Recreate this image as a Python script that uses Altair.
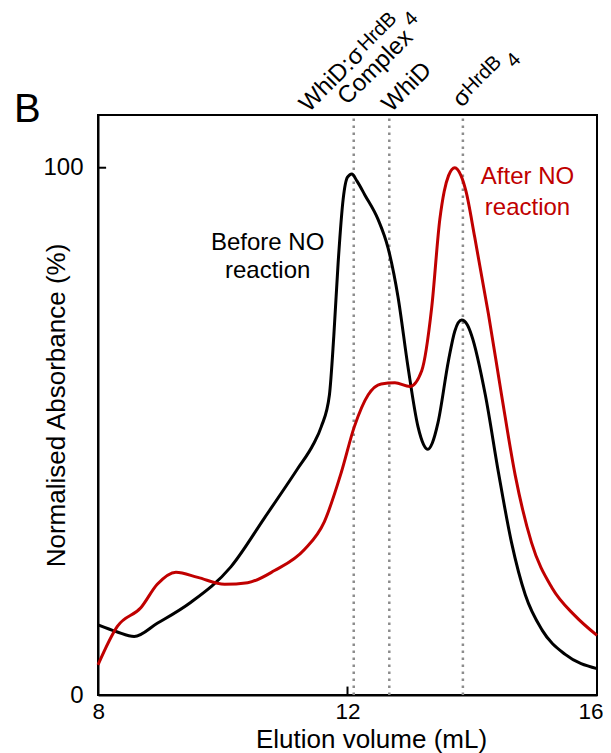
import altair as alt
import pandas as pd

# ---- data ----
before_x = [8.0, 8.3, 8.58, 8.95, 9.49, 10.13, 10.67, 11.2, 11.45, 11.58, 11.71, 11.78, 11.85, 11.93, 12.0, 12.07,
            12.15, 12.28, 12.49, 12.65, 12.81, 12.97, 13.13, 13.22, 13.29, 13.36, 13.45, 13.62, 13.72, 13.83,
            13.92, 13.99, 14.21, 14.42, 14.63, 14.85, 15.12, 15.49, 16.0]
before_y = [13.3, 12.0, 11.1, 13.6, 17.6, 24.3, 33.6, 42.9, 47.5, 50.9, 56.9, 68.0, 82.0, 94.0, 98.2, 98.8,
            97.5, 94.8, 90.2, 84.8, 75.5, 62.2, 50.9, 47.5, 46.6, 47.8, 51.6, 63.5, 69.0, 71.1,
            70.2, 68.2, 56.9, 42.2, 28.9, 19.0, 12.3, 7.7, 5.0]

after_x = [8.0, 8.31, 8.69, 8.95, 9.25, 9.6, 10.03, 10.4, 10.83, 11.31, 11.63, 11.9, 12.11, 12.33, 12.54,
           12.76, 13.0, 13.19, 13.35, 13.48, 13.55, 13.62, 13.72, 13.82, 13.9, 14.04, 14.26, 14.47, 14.69,
           14.95, 15.28, 15.65, 16.0]
after_y = [5.7, 13.0, 16.6, 21.0, 23.3, 22.3, 21.0, 21.3, 23.6, 27.6, 32.9, 42.2, 50.9, 56.9, 59.0,
           59.2, 58.5, 61.5, 73.5, 90.2, 95.5, 98.5, 100.0, 98.5, 95.5, 86.8, 72.2, 56.9, 41.6,
           28.9, 20.3, 15.0, 11.3]

series_names = ["Before NO reaction", "After NO reaction"]
marker_x = [12.1, 12.67, 13.85]
x_ticks = [8, 12, 16]
y_ticks = [0, 100]

RED = "#c00000"
FONT = "Liberation Sans"

df = pd.concat([
    pd.DataFrame({"x": before_x, "y": before_y, "s": series_names[0]}),
    pd.DataFrame({"x": after_x, "y": after_y, "s": series_names[1]}),
])

xs = alt.Scale(domain=[8, 16], nice=False, zero=False)
ys = alt.Scale(domain=[0, 110], nice=False, zero=False)

lines = alt.Chart(df).mark_line(strokeWidth=3, interpolate="monotone").encode(
    x=alt.X("x:Q", scale=xs,
            axis=alt.Axis(values=x_ticks, format="d", ticks=False, grid=False, labelFontSize=22.5,
                          labelFlush=True, labelFlushOffset=6, labelOverlap=False,
                          labelPadding=5, title="Elution volume (mL)", titleFontSize=26,
                          titleFontWeight="normal", titlePadding=4, titleX=273)),
    y=alt.Y("y:Q", scale=ys,
            axis=alt.Axis(values=y_ticks, format="d", ticks=False, grid=False, labelFontSize=24,
                          labelFlush=False, labelOverlap=False,
                          labelPadding=15, title="Normalised Absorbance (%)", titleFontSize=26,
                          titleFontWeight="normal", titleX=-34, titleY=290,
                          titleBaseline="alphabetic")),
    color=alt.Color("s:N", scale=alt.Scale(domain=series_names, range=["black", RED]), legend=None),
    order=alt.Order("s:N"),
)

vlines = alt.Chart(pd.DataFrame({"x": marker_x, "y0": [0] * 3, "y1": [110] * 3})).mark_rule(
    color="#8c8c8c", strokeWidth=2.5, strokeDash=[2.5, 4.5]
).encode(x="x:Q", y="y0:Q", y2="y1:Q")

# inward tick marks
xt = alt.Chart(pd.DataFrame({"x": [12], "y0": [0], "y1": [1.6]})).mark_rule(
    color="black", strokeWidth=2).encode(x="x:Q", y="y0:Q", y2="y1:Q")
yt = alt.Chart(pd.DataFrame({"x0": [8], "x1": [8.13], "y": [100]})).mark_rule(
    color="black", strokeWidth=2).encode(x="x0:Q", x2="x1:Q", y="y:Q")


def txt(label, x, y, size, color="black", align="center", angle=0, dx=0, dy=0):
    return alt.Chart(pd.DataFrame({"x": [x], "y": [y], "t": [label]})).mark_text(
        font=FONT, fontSize=size, color=color, align=align, baseline="alphabetic",
        angle=angle, dx=dx, dy=dy
    ).encode(x="x:Q", y="y:Q", text="t:N")


texts = [
    txt("Before NO", 10.72, 84.4, 24),
    txt("reaction", 10.72, 79.1, 24),
    txt("After NO", 14.886, 96.85, 24, RED),
    txt("reaction", 14.886, 91.0, 24, RED),
    txt("B", 6.653, 108.7, 40, align="left"),
    # rotated marker labels
    txt("WhiD:σ", 11.38, 110.4, 24, align="left", angle=315),
    txt("HrdB", 11.38, 110.4, 20, align="left", angle=315, dx=83, dy=-3),
    txt("4", 11.38, 110.4, 20, align="left", angle=315, dx=133, dy=12),
    txt("Complex", 11.38, 110.4, 24, align="left", angle=315, dx=32, dy=22),
    txt("WhiD", 12.70, 110.4, 24, align="left", angle=315),
    txt("σ", 13.83, 111.3, 24, align="left", angle=315),
    txt("HrdB", 13.83, 111.3, 20, align="left", angle=315, dx=15, dy=-3),
    txt("4", 13.83, 111.3, 20, align="left", angle=315, dx=65, dy=9),
]

chart = alt.layer(vlines, lines, xt, yt, *texts).properties(
    width=499, height=580,
    autosize=alt.AutoSizeParams(type="none"),
    padding={"left": 90, "top": 107, "right": 6, "bottom": 58},
).configure(font=FONT).configure_view(
    stroke="black", strokeWidth=2
).configure_axis(
    domainColor="black", domainWidth=2, labelColor="black", titleColor="black",
    labelFont=FONT, titleFont=FONT
)

chart.save("out.html", embed_options={"renderer": "svg", "actions": False})
